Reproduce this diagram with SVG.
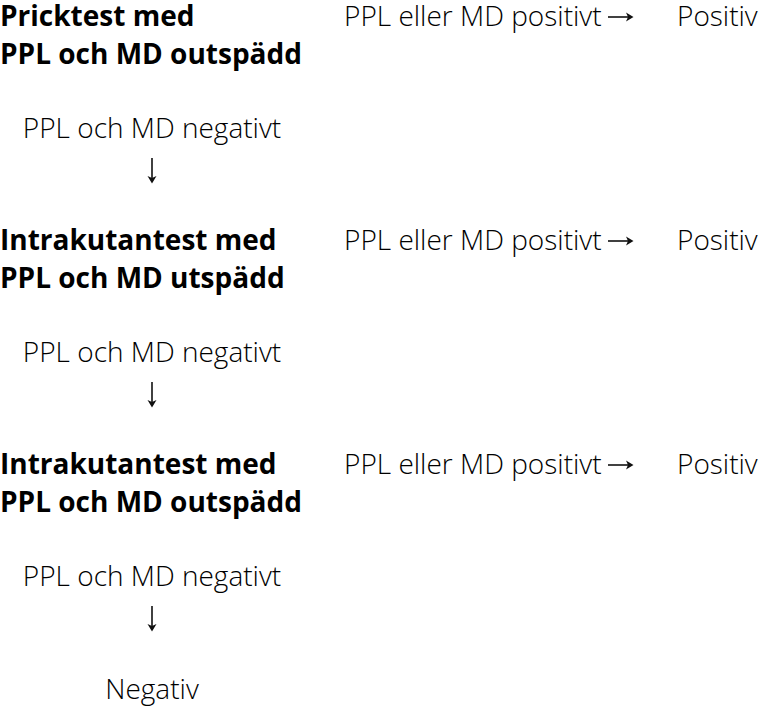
<svg xmlns="http://www.w3.org/2000/svg" width="761" height="706" viewBox="0 0 761 706">
<style>
text{font-family:"Open Sans","Noto Sans","Liberation Sans",sans-serif;font-size:28px;fill:#000}
.h{font-weight:700}
.l{font-weight:300}
.c{text-anchor:middle}
.ln{stroke:#111;stroke-width:1.6;fill:none}
.hd{fill:#111;stroke:none}
</style>
<defs>
<path id="ar" d="M-7.5,-4.5 L0,0 L-7.5,4.5 L-5.5,0 Z"/>
</defs>
<rect width="761" height="706" fill="#fff"/>
<g id="step1">
<text class="h" x="0" y="26">Pricktest med</text>
<text class="h" x="0" y="63.5">PPL och MD outspädd</text>
</g>
<g id="pos1"><text class="l" x="344" y="26">PPL eller MD positivt</text><text class="l" x="677" y="26">Positiv</text></g>
<g id="neg1"><text class="l c" x="152" y="137.5">PPL och MD negativt</text></g>
<g id="step2">
<text class="h" x="0" y="250">Intrakutantest med</text>
<text class="h" x="0" y="287.5">PPL och MD utspädd</text>
</g>
<g id="pos2"><text class="l" x="344" y="250">PPL eller MD positivt</text><text class="l" x="677" y="250">Positiv</text></g>
<g id="neg2"><text class="l c" x="152" y="361.5">PPL och MD negativt</text></g>
<g id="step3">
<text class="h" x="0" y="474">Intrakutantest med</text>
<text class="h" x="0" y="511.5">PPL och MD outspädd</text>
</g>
<g id="pos3"><text class="l" x="344" y="474">PPL eller MD positivt</text><text class="l" x="677" y="474">Positiv</text></g>
<g id="neg3"><text class="l c" x="152" y="585.5">PPL och MD negativt</text></g>
<g id="result"><text class="l c" x="152" y="699">Negativ</text></g>
<g id="connectors">
<path class="ln" d="M608,17 H631"/><use href="#ar" class="hd" transform="translate(633.5,17)"/>
<path class="ln" d="M608,241 H631"/><use href="#ar" class="hd" transform="translate(633.5,241)"/>
<path class="ln" d="M608,465 H631"/><use href="#ar" class="hd" transform="translate(633.5,465)"/>
<path class="ln" d="M152,158 V181"/><use href="#ar" class="hd" transform="translate(152,183.5) rotate(90)"/>
<path class="ln" d="M152,382 V405"/><use href="#ar" class="hd" transform="translate(152,407.5) rotate(90)"/>
<path class="ln" d="M152,606 V629"/><use href="#ar" class="hd" transform="translate(152,631.5) rotate(90)"/>
</g>
</svg>
